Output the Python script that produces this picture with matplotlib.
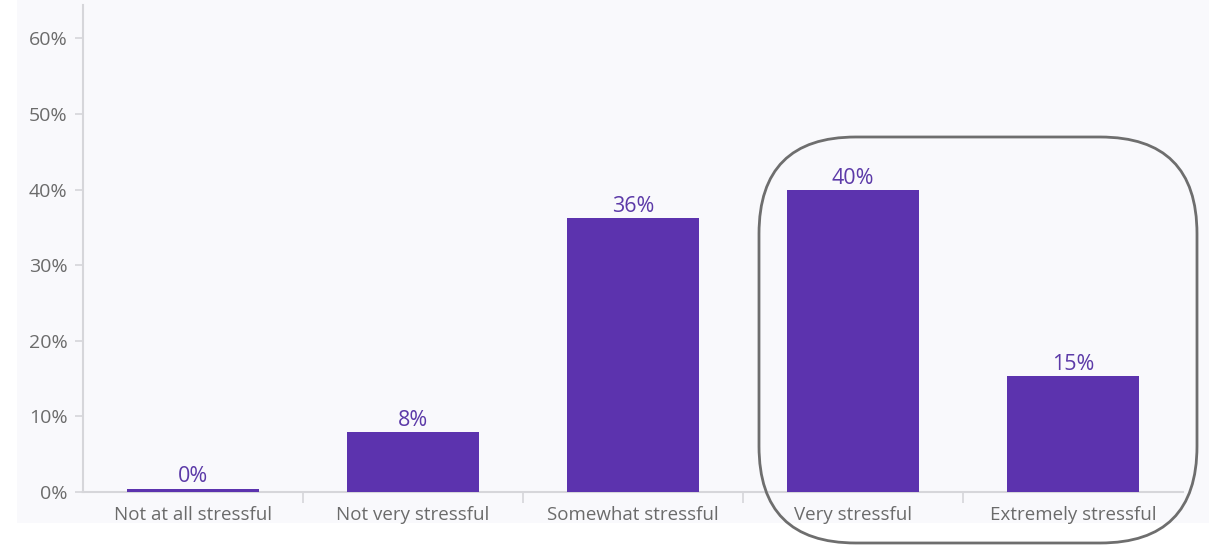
import matplotlib.pyplot as plt
from matplotlib.patches import FancyBboxPatch, Rectangle

plt.rcParams['font.family'] = ['Open Sans', 'DejaVu Sans']

categories = ['Not at all stressful', 'Not very stressful', 'Somewhat stressful',
              'Very stressful', 'Extremely stressful']
shares = [0.4, 7.9, 36.2, 39.9, 15.3]
yticks = [0, 10, 20, 30, 40, 50, 60]

W, H = 1209, 545
fig = plt.figure(figsize=(W / 100, H / 100), dpi=100)
fig.patch.set_facecolor('white')

# light panel behind the chart
fig.patches.append(Rectangle((17 / W, 22 / H), 1 - 17 / W, 1 - 22 / H,
                             transform=fig.transFigure, facecolor='#f9f9fc',
                             edgecolor='none', zorder=-1))

ax = fig.add_axes([83 / W, 1 - 492 / H, 1100 / W, 487 / H])
ax.set_facecolor('#f9f9fc')

x = range(len(categories))
bars = ax.bar(x, shares, width=0.6, color='#5c33ae', zorder=3)
for b, v in zip(bars, shares):
    ax.text(b.get_x() + b.get_width() / 2, v + 0.2, f'{round(v)}%',
            ha='center', va='bottom', fontsize=15.5, color='#5c3aa8')

ax.set_xlim(-0.5, len(categories) - 0.5)
ax.set_ylim(0, 64.4)
ax.set_yticks(yticks)
ax.set_yticklabels([f'{t}%' for t in yticks])
ax.set_xticks(list(x))
ax.set_xticklabels(categories)
ax.set_xticks([i + 0.5 for i in range(len(categories) - 1)], minor=True)

for s in ['top', 'right']:
    ax.spines[s].set_visible(False)
for s in ['left', 'bottom']:
    ax.spines[s].set_color('#d6d6da')
    ax.spines[s].set_linewidth(1.5)

ax.tick_params(axis='y', length=6, width=1.2, color='#d6d6da',
               labelsize=14, labelcolor='#6b6b6b', pad=5)
ax.tick_params(axis='x', which='major', length=0, labelsize=13.5,
               labelcolor='#6b6b6b', pad=10)
ax.tick_params(axis='x', which='minor', length=8, width=1.2, color='#d6d6da')

# highlight box around the two top categories
box = FancyBboxPatch((759 / W, 2 / H), 438 / W, (408 - 2) / H,
                     boxstyle='round,pad=0,rounding_size=0.08',
                     transform=fig.transFigure, facecolor='none',
                     edgecolor='#6e6e6e', linewidth=2, mutation_aspect=W / H)
fig.patches.append(box)

fig.savefig('out.png', dpi=100, facecolor=fig.get_facecolor())
